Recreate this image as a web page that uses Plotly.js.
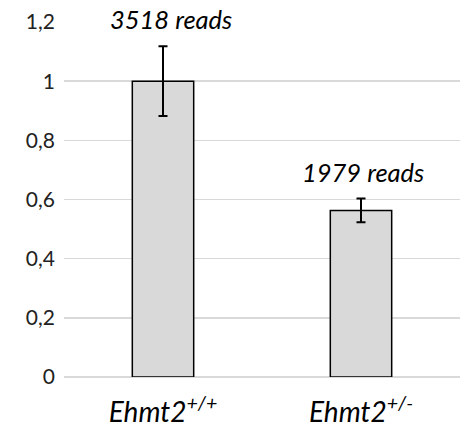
<!DOCTYPE html>
<html>
<head>
<meta charset="utf-8">
<script src="https://cdn.plot.ly/plotly-3.0.1.min.js"></script>
<style>html,body{margin:0;padding:0;background:#fff;}#chart{width:460px;height:425px;}</style>
</head>
<body>
<div id="chart"></div>
<script>
var categories = ['Ehmt2<sup>+/+</sup>', 'Ehmt2<sup>+/-</sup>'];
var values = [1.0, 0.563];
var errors = [0.118, 0.04];
var readLabels = ['3518 reads', '1979 reads'];
var yTicks = [0, 0.2, 0.4, 0.6, 0.8, 1, 1.2];

var catLabels = categories.map(function(c){ return '<i>' + c + '</i>'; });

var trace = {
  type: 'bar',
  x: catLabels,
  y: values,
  width: 0.31,
  marker: {color: '#d9d9d9', line: {color: '#000000', width: 1.5}},
  error_y: {type: 'data', array: errors, visible: true, color: '#000000', thickness: 2, width: 4.5}
};

var annotations = readLabels.map(function(t, i){
  return {
    x: catLabels[i], y: values[i] + errors[i], xref: 'x', yref: 'y',
    text: '<i>' + t + '</i>', showarrow: false, yanchor: 'middle', yshift: 27, xshift: i === 0 ? 8 : 2,
    font: {family: 'Lato, sans-serif', size: 25.5, color: '#000000'}
  };
});

var layout = {
  width: 460, height: 425,
  margin: {l: 64, r: 0, t: 22, b: 48},
  paper_bgcolor: '#ffffff', plot_bgcolor: '#ffffff',
  separators: ', ',
  showlegend: false,
  font: {family: 'Lato, sans-serif', color: '#000000'},
  xaxis: {
    type: 'category', range: [-0.5, 1.5], showgrid: false, zeroline: false, showline: false,
    ticks: '', tickfont: {size: 28, color: '#000000', family: 'Lato, sans-serif'}, ticklabelstandoff: 16
  },
  yaxis: {
    range: [0, 1.2], tickvals: yTicks, showgrid: true, gridcolor: '#d9d9d9', gridwidth: 1.5,
    zeroline: true, zerolinecolor: '#d9d9d9', zerolinewidth: 1.5, showline: false, ticks: '',
    tickfont: {size: 21, color: '#222222', family: 'Lato, sans-serif'}, ticklabelstandoff: 8
  },
  annotations: annotations
};

Plotly.newPlot('chart', [trace], layout, {displayModeBar: false, staticPlot: true});
</script>
</body>
</html>
